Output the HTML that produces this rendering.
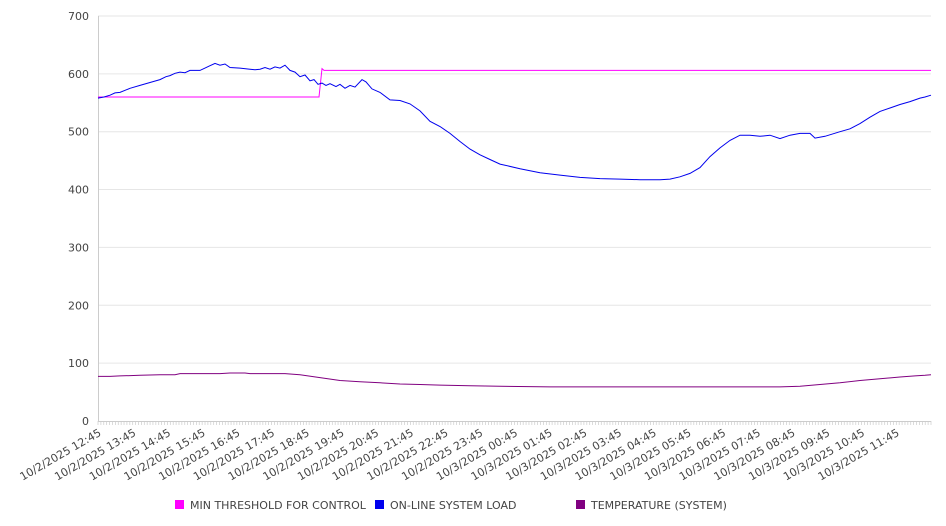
<!DOCTYPE html>
<html><head><meta charset="utf-8"><style>
body{margin:0;background:#fff;}
svg{display:block;font-family:"DejaVu Sans","Liberation Sans",sans-serif;}
</style></head><body>
<svg id="s" width="946" height="526" xmlns="http://www.w3.org/2000/svg"></svg>
<script>
const s=document.getElementById('s');
const Y=v=>421-v*0.5786;
let h='';
for(let v=100;v<=700;v+=100){h+=`<line x1="98" x2="931" y1="${Y(v)}" y2="${Y(v)}" stroke="#e6e6e6"/>`;}
for(let v=0;v<=700;v+=100){h+=`<text x="89" y="${Y(v)+4}" font-size="11" fill="#444" text-anchor="end">${v}</text>`;}
h+=`<line x1="98.5" x2="98.5" y1="16" y2="421" stroke="#ccc"/><line x1="98" x2="931" y1="421.5" y2="421.5" stroke="#ccc"/>`;
for(let i=0;i<=288;i++){const x=98+i*833/288;h+=`<line x1="${x}" x2="${x}" y1="421" y2="425" stroke="#ccc" stroke-width="0.7"/>`;}
const d1=['10/2/2025','10/3/2025'];
let hrs=[12,13,14,15,16,17,18,19,20,21,22,23,0,1,2,3,4,5,6,7,8,9,10,11];
hrs.forEach((hh,i)=>{const x=98+i*34.7;const d=i<12?d1[0]:d1[1];const t=(hh<10?'0':'')+hh+':45';
h+=`<text transform="translate(${x},${428}) rotate(-30)" font-size="11" fill="#444" text-anchor="end" dy="8">${d} ${t}</text>`;});
const pth=(pts,c)=>`<polyline fill="none" stroke="${c}" stroke-width="1" points="${pts.map(p=>p[0]+','+Y(p[1]).toFixed(1)).join(' ')}"/>`;
h+=pth([[98,560],[319,560],[322,609],[324,606],[931,606]],'#ff00ff');
const b=[[98,558],[104,560],[110,563],[115,567],[120,568],[130,575],[140,580],[150,585],[160,590],[166,595],[170,597],[175,601],[180,603],[185,602],[190,606],[200,606],[205,610],[210,614],[215,618],[220,615],[225,617],[230,611],[240,610],[250,608],[255,607],[260,608],[265,611],[270,608],[275,612],[280,610],[285,615],[290,606],[295,603],[300,595],[305,598],[310,588],[314,590],[318,582],[322,584],[326,580],[330,583],[336,578],[340,582],[345,575],[350,580],[355,577],[362,590],[366,586],[372,574],[380,568],[390,555],[400,554],[410,548],[420,536],[430,518],[440,509],[450,497],[460,483],[470,470],[480,460],[490,452],[500,444],[520,436],[540,429],[560,425],[580,421],[600,419],[620,418],[640,417],[660,417],[670,418],[680,422],[690,428],[700,438],[710,457],[720,472],[730,485],[740,494],[750,494],[760,492],[770,494],[780,488],[790,494],[800,497],[810,497],[815,489],[825,492],[840,500],[850,505],[860,514],[870,525],[880,535],[890,541],[900,547],[910,552],[920,558],[925,560],[931,563]];
h+=pth(b,'#0000ee');
const t=[[98,77],[110,77],[120,78],[140,79],[160,80],[175,80],[180,82],[220,82],[230,83],[245,83],[250,82],[285,82],[300,80],[320,75],[340,70],[360,68],[380,66],[400,64],[420,63],[440,62],[470,61],[500,60],[550,59],[650,59],[780,59],[800,60],[820,63],[840,66],[860,70],[880,73],[900,76],[915,78],[925,79],[931,80]];
h+=pth(t,'#800080');
const L=[[175,'#ff00ff','MIN THRESHOLD FOR CONTROL'],[375,'#0000ee','ON-LINE SYSTEM LOAD'],[576,'#800080','TEMPERATURE (SYSTEM)']];
L.forEach(l=>{h+=`<rect x="${l[0]}" y="500" width="9" height="9" fill="${l[1]}"/><text x="${l[0]+15}" y="509" font-size="11" fill="#444">${l[2]}</text>`;});
s.innerHTML=h;
</script>
</body></html>
